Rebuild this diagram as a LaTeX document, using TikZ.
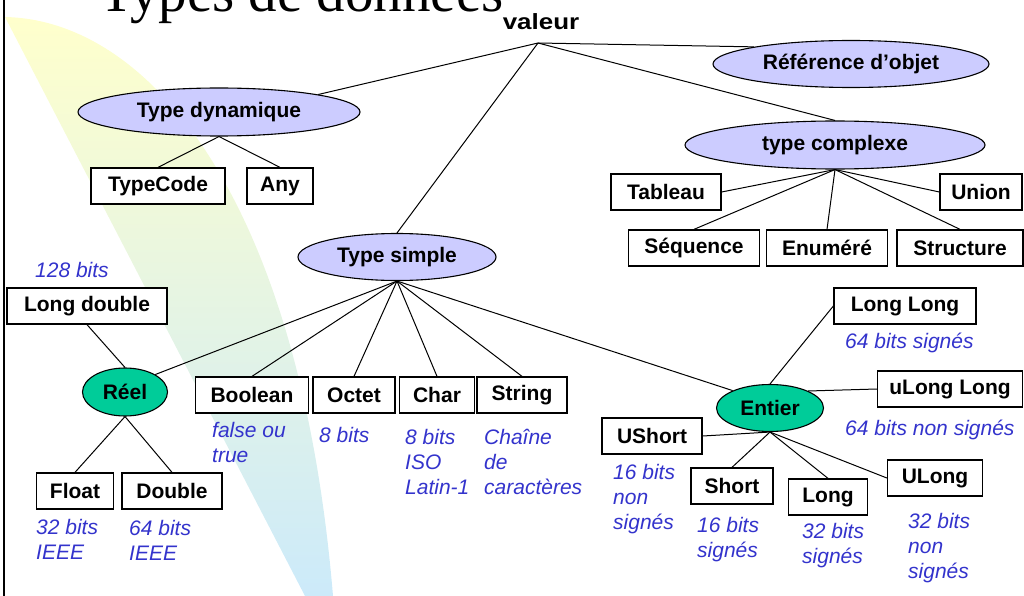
\documentclass[tikz,border=0pt]{standalone}
\usepackage{fontspec}
\setmainfont{Liberation Sans}
\newfontfamily\titlefont{Liberation Serif}
\usetikzlibrary{shapes.geometric}
\definecolor{lav}{RGB}{204,204,255}
\definecolor{mint}{RGB}{0,204,153}
\definecolor{notecol}{RGB}{51,51,204}
\definecolor{bandtop}{RGB}{255,255,204}
\definecolor{bandmid}{RGB}{234,245,224}
\definecolor{bandbot}{RGB}{204,234,250}
\begin{document}
\begin{tikzpicture}[x=1pt,y=-1pt,
  typebox/.style={draw, line width=1.3pt, fill=white, rectangle, inner sep=0pt,
    minimum height=36pt, font=\fontsize{21}{25}\selectfont\bfseries},
  catell/.style={draw, line width=1.1pt, ellipse, fill=lav, inner sep=0pt,
    font=\fontsize{21}{25}\selectfont\bfseries},
  numell/.style={catell, fill=mint},
  note/.style={anchor=west, align=left, inner sep=0pt, text=notecol,
    font=\fontsize{21}{25}\selectfont\itshape},
  link/.style={line width=1pt}
]
\useasboundingbox (0,0) rectangle (1024,596);

% background swoosh
\shade[top color=bandtop, middle color=bandmid, bottom color=bandbot]
  (5,17) .. controls (150,20) and (300,200) .. (333,596) -- (305,596) -- cycle;

% frame line and title
\draw[line width=2pt] (4,0) -- (4,596);
\node[anchor=base west, inner sep=0pt, font=\titlefont\fontsize{57}{60}\selectfont] (title) at (99,12) {Types de données};

% root
\node[inner sep=0pt, font=\fontsize{22}{25}\selectfont\bfseries] (val) at (541,22) {\scalebox{1.18}[1]{valeur}};
\coordinate (vj) at (538,43);

% categories
\node[catell, minimum width=282pt, minimum height=48pt] (td) at (219,112) {Type dynamique};
\node[catell, minimum width=276pt, minimum height=47pt] (ref) at (851,64) {Référence d’objet};
\node[catell, minimum width=300pt, minimum height=48pt] (tc) at (835,145) {type complexe};
\node[catell, minimum width=198pt, minimum height=47pt] (ts) at (397,257) {Type simple};
\node[numell, minimum width=85pt, minimum height=48pt] (reel) at (125,392) {Réel};
\node[numell, minimum width=107pt, minimum height=47pt] (entier) at (770,408) {Entier};

% dynamic types
\node[typebox, minimum width=134pt] (tcode) at (158,186) {TypeCode};
\node[typebox, minimum width=66pt] (any) at (280,186) {Any};

% complex types
\node[typebox, minimum width=110pt] (tableau) at (666,192) {Tableau};
\node[typebox, minimum width=82pt] (union) at (981,192) {Union};
\node[typebox, minimum width=131pt] (sequence) at (694,248) {Séquence};
\node[typebox, minimum width=121pt] (enum) at (827,248) {Enuméré};
\node[typebox, minimum width=126pt] (struct) at (960,248) {Structure};

% simple types
\node[typebox, minimum width=160pt] (ldouble) at (87,306) {Long double};
\node[typebox, minimum width=113pt] (boolean) at (252,395) {Boolean};
\node[typebox, minimum width=82pt] (octet) at (354,395) {Octet};
\node[typebox, minimum width=75pt] (char) at (437,395) {Char};
\node[typebox, minimum width=90pt] (string) at (522,395) {String};
\node[typebox, minimum width=77pt] (float) at (75,491) {Float};
\node[typebox, minimum width=100pt] (double) at (172,491) {Double};

% integer types
\node[typebox, minimum width=142pt] (longlong) at (905,306) {Long Long};
\node[typebox, minimum width=145pt] (ulonglong) at (950,389) {uLong Long};
\node[typebox, minimum width=100pt] (ushort) at (652,436) {UShort};
\node[typebox, minimum width=82pt] (short) at (732,486) {Short};
\node[typebox, minimum width=79pt] (long) at (828,497) {Long};
\node[typebox, minimum width=95pt] (ulong) at (935,478) {ULong};

% size notes
\node[note] (n128) at (35,270) {128 bits};
\node[note] (nbool) at (212,442) {false ou\\true};
\node[note] (noct) at (319,435) {8 bits};
\node[note] (nchar) at (405,462) {8 bits\\ISO\\Latin-1};
\node[note] (nstr) at (484,462) {Chaîne\\de\\caractères};
\node[note] (nfloat) at (36,539) {32 bits\\IEEE};
\node[note] (ndouble) at (129,540) {64 bits\\IEEE};
\node[note] (nll) at (845,343) {64 bits signés};
\node[note] (null) at (845,430) {64 bits non signés};
\node[note] (nush) at (613,499) {16 bits\\non\\signés};
\node[note] (nsh) at (697,540) {16 bits\\signés};
\node[note] (nlo) at (802,546) {32 bits\\signés};
\node[note] (nulo) at (908,548) {32 bits\\non\\signés};

% connectors
\begin{scope}[on background layer/.style={}]
\draw[link] (vj) -- (ref.170);
\draw[link] (vj) -- (tc.north);
\draw[link] (vj) -- (td.10);
\draw[link] (vj) -- (ts.north);

\draw[link] (td.south) -- (tcode.north);
\draw[link] (td.south) -- (any.north);

\draw[link] (tc.south) -- (tableau.east);
\draw[link] (tc.south) -- (union.west);
\draw[link] (tc.south) -- (sequence.north);
\draw[link] (tc.south) -- (enum.north);
\draw[link] (tc.south) -- (struct.north);

\draw[link] (ts.south) -- (reel.30);
\draw[link] (ts.south) -- (boolean.north);
\draw[link] (ts.south) -- (octet.north);
\draw[link] (ts.south) -- (char.north);
\draw[link] (ts.south) -- (string.north);
\draw[link] (ts.south) -- (entier.155);

\draw[link] (ldouble.south) -- (reel.north);
\draw[link] (reel.south) -- (float.north);
\draw[link] (reel.south) -- (double.north);

\draw[link] (entier.north) -- (longlong.west);
\draw[link] (entier.24) -- (ulonglong.west);
\draw[link] (ushort.east) -- (entier.south);
\draw[link] (entier.south) -- (short.north);
\draw[link] (entier.south) -- (long.north);
\draw[link] (entier.south) -- (ulong.west);
\end{scope}
\end{tikzpicture}
\end{document}
